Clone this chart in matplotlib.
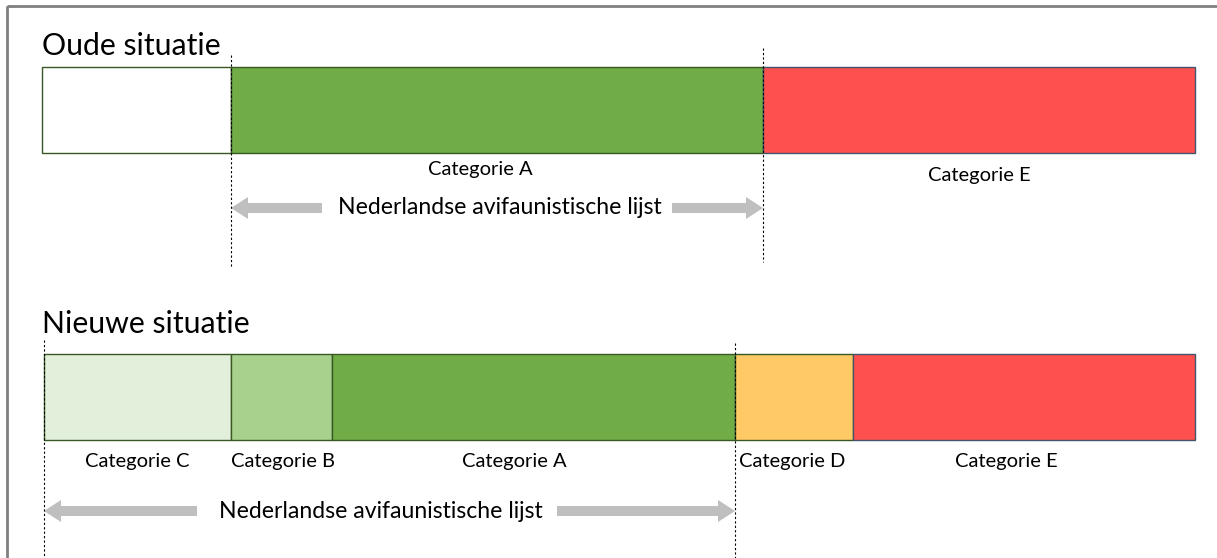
import matplotlib.pyplot as plt
from matplotlib.patches import Rectangle, FancyArrow

plt.rcParams['font.family'] = ['Lato', 'DejaVu Sans']

# segment boundaries (horizontal position in picture units)
old_edges = [42, 231, 763, 1195]
old_colors = ['white', '#70AD47', '#FF5050']
old_labels = ['', 'Categorie A', 'Categorie E']
old_label_y = [170, 170, 175]

new_edges = [44, 231, 332, 735, 853, 1195]
new_colors = ['#E2EFDA', '#A9D18E', '#70AD47', '#FFCA66', '#FF5050']
new_labels = ['Categorie C', 'Categorie B', 'Categorie A', 'Categorie D', 'Categorie E']
new_label_x = [137, 283, 514, 792, 1006]

old_list = [231, 763]   # Nederlandse avifaunistische lijst, oud
new_list = [44, 735]    # nieuw

fig = plt.figure(figsize=(12.17, 5.58), dpi=100)
ax = fig.add_axes([0, 0, 1, 1])
ax.set_xlim(0, 1217)
ax.set_ylim(558, 0)
ax.axis('off')

# frame
ax.add_patch(Rectangle((7, 6), 1230, 600, fill=False, edgecolor='#808080', lw=2))


def draw_bar(edges, colors, y0, h):
    for i, c in enumerate(colors):
        ec = '#385723' if c != '#FF5050' else '#44546A'
        ax.add_patch(Rectangle((edges[i], y0), edges[i + 1] - edges[i], h,
                               facecolor=c, edgecolor=ec, lw=1))


def draw_list(x0, x1, y, text, text_x, gap_l, gap_r):
    ax.text(text_x, y, text, fontsize=16.6, ha='center', va='center')
    kw = dict(width=10, head_width=22, head_length=17, length_includes_head=True,
              color='#BFBFBF', lw=0)
    ax.add_patch(FancyArrow(gap_l, y, x0 - gap_l, 0, **kw))
    ax.add_patch(FancyArrow(gap_r, y, x1 - gap_r, 0, **kw))


# Oude situatie
ax.text(42, 55, 'Oude situatie', fontsize=21.8, ha='left', va='baseline')
draw_bar(old_edges, old_colors, 67, 86)
for i, lab in enumerate(old_labels):
    if lab:
        ax.text((old_edges[i] + old_edges[i + 1]) / 2 + (-17 if i == 1 else 0),
                old_label_y[i], lab, fontsize=14.5, ha='center', va='center')
ax.plot([old_list[0]] * 2, [55, 268], color='black', lw=0.8, ls=(0, (2, 2)))
ax.plot([old_list[1]] * 2, [48, 262], color='black', lw=0.8, ls=(0, (2, 2)))
draw_list(old_list[0], old_list[1], 208, 'Nederlandse avifaunistische lijst', 500, 322, 672)

# Nieuwe situatie
ax.text(42, 333, 'Nieuwe situatie', fontsize=21.8, ha='left', va='baseline')
draw_bar(new_edges, new_colors, 354, 86)
for i, lab in enumerate(new_labels):
    ax.text(new_label_x[i], 462, lab, fontsize=14.5, ha='center', va='center')
ax.plot([new_list[0]] * 2, [340, 558], color='black', lw=0.8, ls=(0, (2, 2)))
ax.plot([new_list[1]] * 2, [343, 558], color='black', lw=0.8, ls=(0, (2, 2)))
draw_list(new_list[0], new_list[1], 511, 'Nederlandse avifaunistische lijst', 381, 197, 557)

fig.savefig('out.png', dpi=100)
